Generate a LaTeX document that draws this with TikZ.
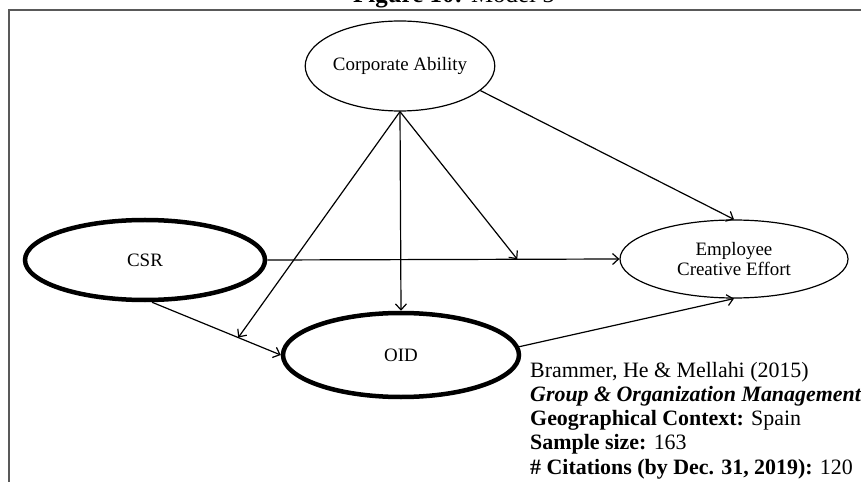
\documentclass[tikz,border=0pt]{standalone}
\usepackage{fontspec}
\setmainfont{Liberation Serif}
\usetikzlibrary{shapes.geometric,arrows.meta}
\begin{document}
\begin{tikzpicture}[x=1bp,y=-1bp,
  thinell/.style={draw,ellipse,line width=1.2bp,inner sep=0pt,font=\fontsize{19}{21}\selectfont,align=center},
  boldell/.style={draw,ellipse,line width=4.5bp,inner sep=0pt,font=\fontsize{19}{21}\selectfont,align=center},
  arr/.style={-{Straight Barb[length=6bp,width=11bp]},line width=1.2bp},
  frameline/.style={draw=black!65,line width=2bp}]
\useasboundingbox (0,0) rectangle (861,482);
\coordinate (fbl) at (8.5,482);
\coordinate (ftl) at (8.5,10.5);
\coordinate (ftr) at (861,10.5);
\draw[frameline] (fbl) -- (ftl) -- (ftr);
\node[anchor=base,font=\fontsize{25}{28}\selectfont,inner sep=0pt] (title) at (454,3) {\textbf{Figure 10:} Model 5};
\node[thinell,minimum width=176bp,minimum height=90bp] (ca) at (400,66) {Corporate Ability};
\node[boldell,minimum width=240bp,minimum height=80bp] (csr) at (145,260) {CSR};
\node[boldell,minimum width=236bp,minimum height=84bp] (oid) at (401,355) {OID};
\node[thinell,minimum width=228bp,minimum height=78bp] (ece) at (734,259) {Employee\\Creative Effort};
\path ([xshift=7bp]csr.south) -- (oid.west) coordinate[pos=0.67] (m1);
\path (csr.east) -- (ece.west) coordinate[pos=0.71] (m2);
\draw[arr] ([xshift=7bp]csr.south) -- (oid.west);
\draw[arr] (csr.east) -- (ece.west);
\draw[arr] (ca.south) -- (oid.north);
\draw[arr] (ca.south) -- (m1);
\draw[arr] (ca.south) -- (m2);
\draw[arr] (ca.-17) -- (ece.north);
\draw[arr] (oid.4) -- (ece.south);
\node[anchor=base west,align=left,inner sep=0pt,font=\fontsize{22}{24.2}\selectfont] (ref) at (530,474)
  {Brammer, He \& Mellahi (2015)\\
   \textbf{\textit{Group \& Organization Management}}\\
   \textbf{Geographical Context:} Spain\\
   \textbf{Sample size:} 163\\
   \textbf{\# Citations (by Dec. 31, 2019):} 120};
\end{tikzpicture}
\end{document}
